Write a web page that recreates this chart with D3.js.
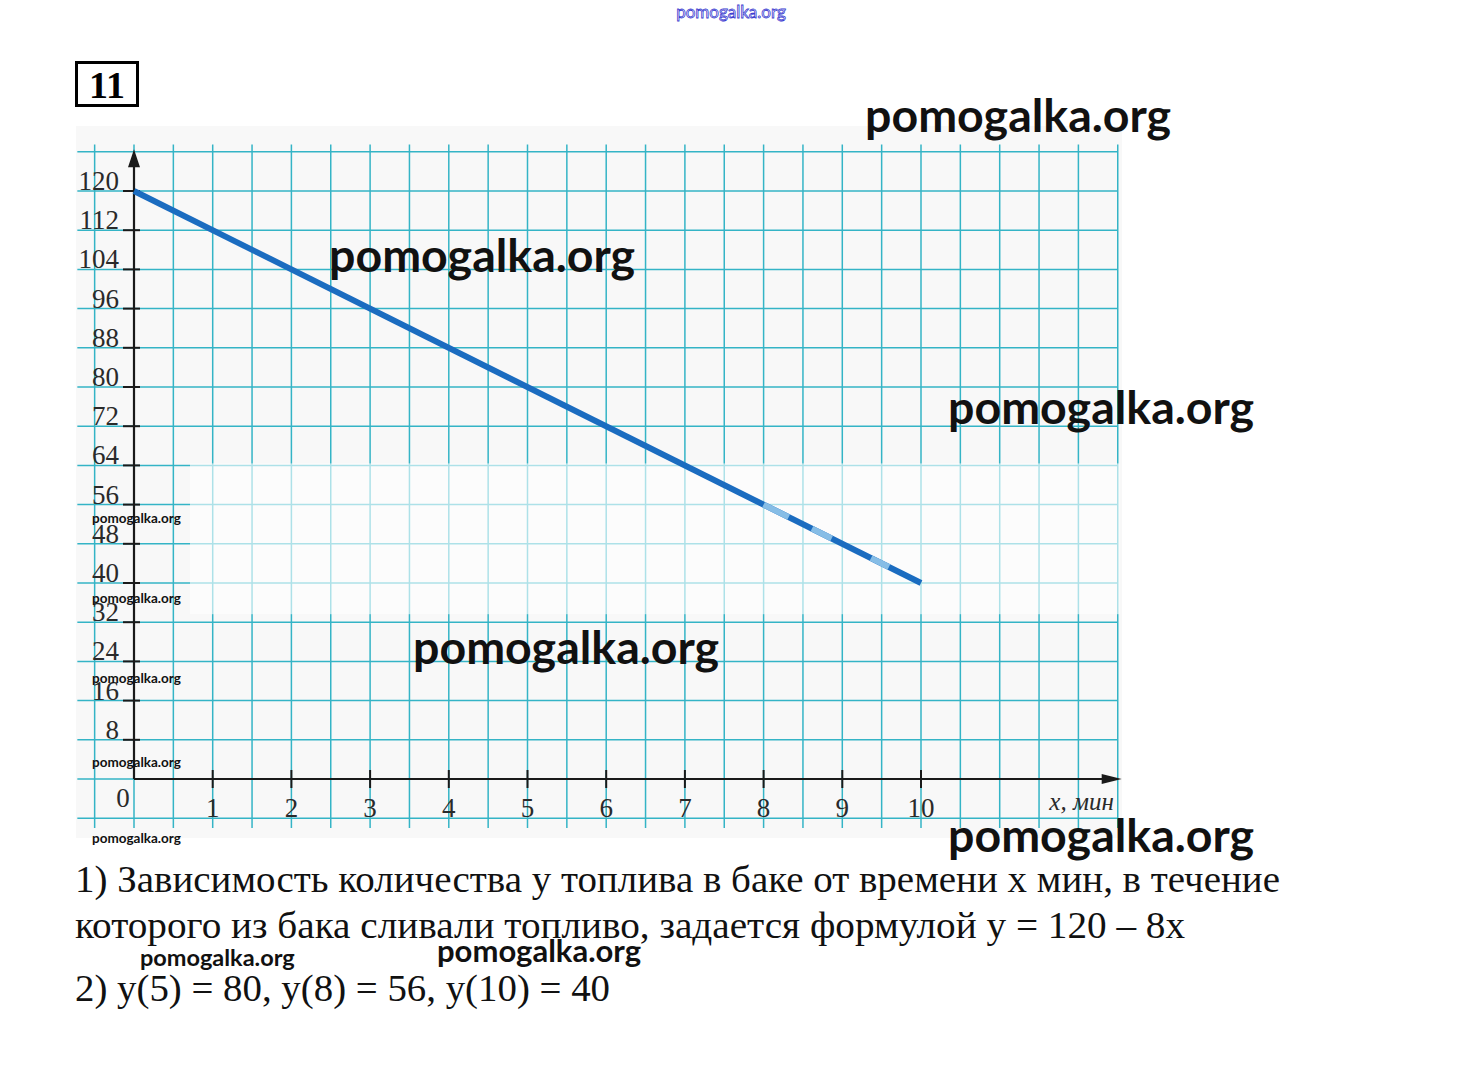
<!DOCTYPE html>
<html>
<head>
<meta charset="utf-8">
<script src="https://cdn.jsdelivr.net/npm/d3@7"></script>
<style>
  body { margin: 0; background: #fff; }
  svg { display: block; }
</style>
</head>
<body>
<svg id="canvas" width="1460" height="1090"></svg>
<script>
// данные графика y = 120 - 8x
const minutes = [0, 10];
const fuel = [120, 40];
const yTicks = [8, 16, 24, 32, 40, 48, 56, 64, 72, 80, 88, 96, 104, 112, 120];
const xTicks = [1, 2, 3, 4, 5, 6, 7, 8, 9, 10];
const answerLines = [
  "1) Зависимость количества у топлива в баке от времени х мин, в течение",
  "которого из бака сливали топливо, задается формулой у = 120 – 8х",
  "2) у(5) = 80, у(8) = 56, у(10) = 40"
];

const svg = d3.select("#canvas");
const serif = "'Liberation Serif', 'DejaVu Serif', serif";
const wm = "Lato, 'Open Sans', sans-serif";

let x = d3.scaleLinear().domain([0, 10]).range([134, 921]);
let y = d3.scaleLinear().domain([0, 120]).range([779, 191]);

// лист бумаги
svg.append("rect")
  .attr("x", 76).attr("y", 126)
  .attr("width", 1046).attr("height", 712)
  .attr("fill", "#f8f8f8");

// клетки
var grid = svg.append("g").attr("stroke", "#34b4c6").attr("stroke-width", 1.5);
grid.selectAll("line.h")
  .data(d3.range(-8, 129, 8))
  .join("line")
  .attr("class", "h")
  .attr("x1", x(-0.72)).attr("x2", x(12.5))
  .attr("y1", d => y(d)).attr("y2", d => y(d));
grid.selectAll("line.v")
  .data(d3.range(-0.5, 12.51, 0.5))
  .join("line")
  .attr("class", "v")
  .attr("x1", d => x(d)).attr("x2", d => x(d))
  .attr("y1", y(129.5)).attr("y2", y(-10));

// стертая полоса
svg.append("rect")
  .attr("x", 190).attr("y", y(64) - 2)
  .attr("width", x(12.5) - 190 + 2).attr("height", y(32) - y(64) - 6)
  .attr("fill", "#fff").attr("opacity", 0.6);

// оси
var axes = svg.append("g").attr("stroke", "#1a1a1a").attr("stroke-width", 2.2);
axes.append("line")
  .attr("x1", x(0)).attr("x2", x(0))
  .attr("y1", y(0)).attr("y2", y(127));
axes.append("line")
  .attr("x1", x(0)).attr("x2", x(12.4))
  .attr("y1", y(0)).attr("y2", y(0));
svg.append("path")
  .attr("d", `M${x(0)},${y(128.5)} l-6,18 l12,0 z`)
  .attr("fill", "#1a1a1a");
svg.append("path")
  .attr("d", `M${x(12.55)},${y(0)} l-20,-5 l0,10 z`)
  .attr("fill", "#1a1a1a");

// деления по y
var yt = svg.append("g");
yt.selectAll("line")
  .data(yTicks)
  .join("line")
  .attr("x1", x(0) - 11).attr("x2", x(0) + 6)
  .attr("y1", d => y(d)).attr("y2", d => y(d))
  .attr("stroke", "#1a1a1a").attr("stroke-width", 2);
yt.selectAll("text")
  .data(yTicks)
  .join("text")
  .attr("x", x(0) - 15)
  .attr("y", d => y(d) - 1)
  .attr("text-anchor", "end")
  .attr("font-family", serif)
  .attr("font-size", 27)
  .attr("fill", "#2a2a2a")
  .text(d => d);

// деления по x
var xt = svg.append("g");
xt.selectAll("line")
  .data(xTicks)
  .join("line")
  .attr("x1", d => x(d)).attr("x2", d => x(d))
  .attr("y1", y(0) - 9).attr("y2", y(0) + 9)
  .attr("stroke", "#1a1a1a").attr("stroke-width", 2);
xt.selectAll("text")
  .data(xTicks)
  .join("text")
  .attr("x", d => x(d))
  .attr("y", y(0) + 38)
  .attr("text-anchor", "middle")
  .attr("font-family", serif)
  .attr("font-size", 27)
  .attr("fill", "#2a2a2a")
  .text(d => d);
svg.append("text")
  .attr("x", x(0) - 11).attr("y", y(0) + 28)
  .attr("text-anchor", "middle")
  .attr("font-family", serif).attr("font-size", 27).attr("fill", "#2a2a2a")
  .text("0");
svg.append("text")
  .attr("x", x(12.45)).attr("y", y(0) + 31)
  .attr("text-anchor", "end")
  .attr("font-family", serif).attr("font-size", 25).attr("font-style", "italic")
  .attr("fill", "#2a2a2a")
  .text("x, мин");

// график
const pts = minutes.map((m, i) => [x(m), y(fuel[i])]);
svg.append("path")
  .attr("d", d3.line()(pts))
  .attr("stroke", "#1b6cc0").attr("stroke-width", 6)
  .attr("fill", "none");
// светлые разрывы в стертой полосе
const xs = 8;
svg.append("path")
  .attr("d", d3.line()([[x(xs), y(120 - 8 * xs)], pts[1]]))
  .attr("stroke", "#86bde6").attr("stroke-width", 6)
  .attr("stroke-dasharray", "28 26 22 44 20 100")
  .attr("fill", "none");

// номер задания
svg.append("rect")
  .attr("x", 76.5).attr("y", 62.5).attr("width", 61).attr("height", 43)
  .attr("fill", "none").attr("stroke", "#000").attr("stroke-width", 3);
svg.append("text")
  .attr("x", 107).attr("y", 98)
  .attr("text-anchor", "middle")
  .attr("font-family", serif).attr("font-size", 38).attr("font-weight", "bold")
  .text("11");

// ответ
const ansY = [892, 938, 1001];
const ansW = [1205, 1110, 535];
svg.selectAll("text.ans")
  .data(answerLines)
  .join("text")
  .attr("class", "ans")
  .attr("x", 75)
  .attr("y", (d, i) => ansY[i])
  .attr("textLength", (d, i) => ansW[i])
  .attr("lengthAdjust", "spacingAndGlyphs")
  .attr("font-family", serif)
  .attr("font-size", 37)
  .attr("fill", "#111")
  .text(d => d);

// водяные знаки
const marks = [
  [865, 132, 46.5], [329, 272, 46.5], [948, 424, 46.5], [413, 664, 46.5],
  [948, 852, 46.5], [437, 962, 31], [140, 966, 23.5],
  [92, 523, 13.5], [92, 603, 13.5], [92, 683, 13.5], [92, 767, 13.5], [92, 843, 13.5]
];
svg.selectAll("text.wm")
  .data(marks)
  .join("text")
  .attr("class", "wm")
  .attr("x", d => d[0]).attr("y", d => d[1])
  .attr("font-family", wm).attr("font-weight", "bold")
  .attr("font-size", d => d[2])
  .attr("fill", "#111")
  .text("pomogalka.org");
svg.append("text")
  .attr("x", 731).attr("y", 18)
  .attr("text-anchor", "middle")
  .attr("font-family", wm).attr("font-size", 17)
  .attr("fill", "#fff").attr("stroke", "#3a3ad0").attr("stroke-width", 0.8)
  .text("pomogalka.org");
</script>
</body>
</html>
